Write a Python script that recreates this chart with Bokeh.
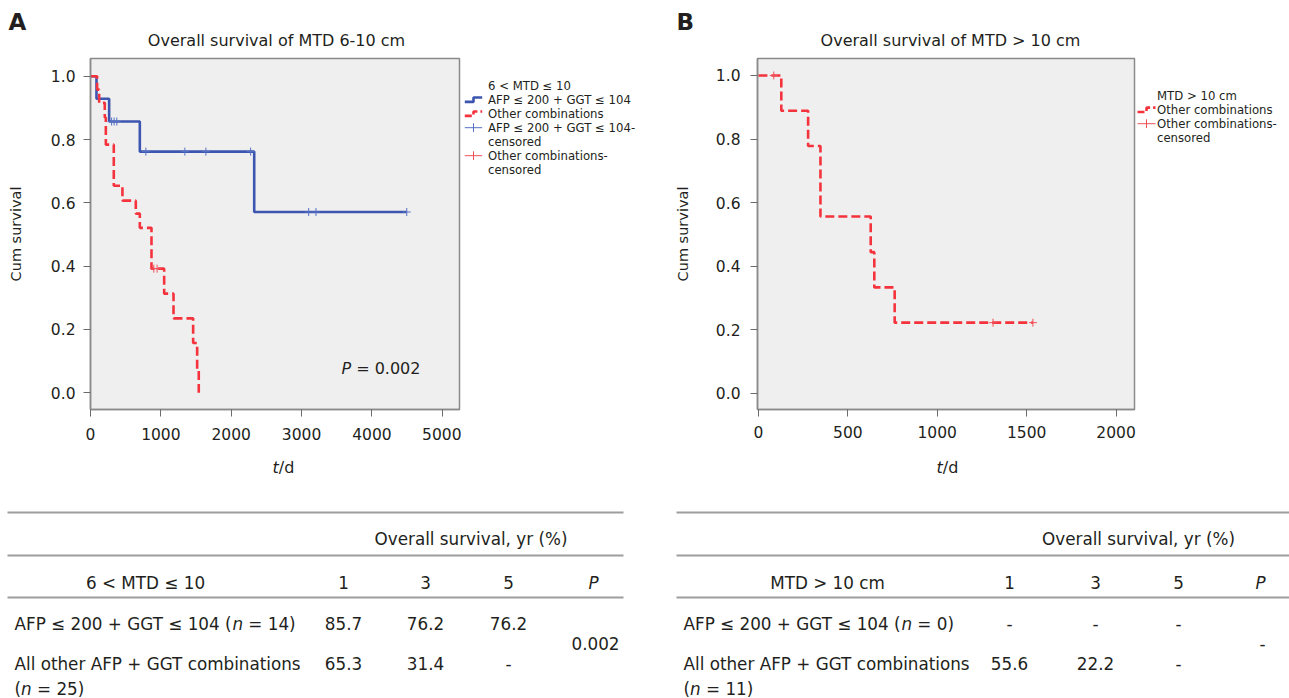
from bokeh.plotting import figure
from bokeh.models import Range1d, Label, FixedTicker
from bokeh.layouts import column, row
from bokeh.embed import file_html
from bokeh.resources import INLINE
from bokeh.core.properties import value

FONT = "DejaVu Sans"
TXT = "#231f20"
BLUE = "#3c55b0"
RED = "#f4333d"
BLUE_C = "#5570c4"
RED_C = "#f25058"
FRAME_BG = "#efefef"
EDGE = "#8a8a8a"
EM_SPACE = 0.318  # DejaVu Sans space width (em)

# ---------------- data ----------------
a_title = "Overall survival of MTD 6-10 cm"
b_title = "Overall survival of MTD > 10 cm"

a_blue_t = [0, 85, 265, 701, 2327, 4495]
a_blue_s = [1.0, 0.929, 0.857, 0.762, 0.571, 0.571]
a_blue_cens_t = [300, 336, 374, 787, 1341, 1640, 2276, 3101, 3205, 4495]
a_blue_cens_s = [0.857, 0.857, 0.857, 0.762, 0.762, 0.762, 0.762, 0.571, 0.571, 0.571]
a_red_t = [0, 94, 123, 203, 218, 331, 454, 644, 701, 867, 1047, 1180, 1459, 1516, 1539]
a_red_s = [1.0, 0.958, 0.916, 0.870, 0.784, 0.654, 0.607, 0.566, 0.521, 0.392, 0.313, 0.235, 0.157, 0.073, 0.0]
a_red_cens_t = [900, 947]
a_red_cens_s = [0.392, 0.392]

b_red_t = [0, 128, 278, 347, 628, 648, 762, 1535]
b_red_s = [1.0, 0.889, 0.778, 0.556, 0.444, 0.333, 0.222, 0.222]
b_red_cens_t = [86, 1312, 1535]
b_red_cens_s = [1.0, 0.222, 0.222]

a_xticks = [0, 1000, 2000, 3000, 4000, 5000]
b_xticks = [0, 500, 1000, 1500, 2000]
yticks = [0.0, 0.2, 0.4, 0.6, 0.8, 1.0]
ytick_labels = ["0.0", "0.2", "0.4", "0.6", "0.8", "1.0"]
a_pvalue_text = "= 0.002"

# legend entries: (label, glyph kind)
a_legend = [("6 < MTD ≤ 10", None), ("AFP ≤ 200 + GGT ≤ 104", "blue_line"),
            ("Other combinations", "red_line"), ("AFP ≤ 200 + GGT ≤ 104-", "blue_cross"),
            ("censored", None), ("Other combinations-", "red_cross"), ("censored", None)]
b_legend = [("MTD > 10 cm", None), ("Other combinations", "red_line"),
            ("Other combinations-", "red_cross"), ("censored", None)]

tab_head = "Overall survival, yr (%)"
tab_years = ["1", "3", "5"]
tab_row_labels = ["AFP ≤ 200 + GGT ≤ 104", "All other AFP + GGT combinations"]
a_group = "6 < MTD ≤ 10"
a_row_n = ["14", "25"]
a_vals = [["85.7", "76.2", "76.2"], ["65.3", "31.4", "-"]]
a_p = "0.002"
b_group = "MTD > 10 cm"
b_row_n = ["0", "11"]
b_vals = [["-", "-", "-"], ["55.6", "22.2", "-"]]
b_p = "-"


def blank_fig(width, height, xr, yr):
    p = figure(width=width, height=height, x_range=Range1d(*xr), y_range=Range1d(*yr),
               output_backend="svg", toolbar_location=None, min_border=0,
               x_axis_type=None, y_axis_type=None)
    p.outline_line_color = None
    p.border_fill_color = "white"
    p.background_fill_color = "white"
    return p


def km_fig(width, bl, bb, xr, yr, xticks, tick_standoff, label_standoff, x_standoff):
    p = figure(width=width, height=400, x_range=Range1d(*xr), y_range=Range1d(*yr),
               output_backend="svg", toolbar_location=None,
               min_border_left=bl, min_border_right=2, min_border_top=8,
               min_border_bottom=bb)
    p.background_fill_color = FRAME_BG
    p.border_fill_color = "white"
    p.outline_line_color = EDGE
    p.outline_line_width = 1.5
    p.xgrid.grid_line_color = None
    p.ygrid.grid_line_color = None
    p.xaxis.ticker = FixedTicker(ticks=xticks)
    p.yaxis.ticker = FixedTicker(ticks=yticks)
    p.yaxis.major_label_overrides = {t: l for t, l in zip(yticks, ytick_labels)}
    for ax in (p.xaxis, p.yaxis):
        ax.axis_line_color = EDGE
        ax.axis_line_width = 1.5
        ax.major_tick_line_color = "#6a6a6a"
        ax.major_tick_in = 0
        ax.major_tick_out = 7
        ax.minor_tick_line_color = None
        ax.major_label_text_font = FONT
        ax.major_label_text_font_size = "15.5px"
        ax.major_label_text_color = TXT
    p.xaxis.major_label_standoff = x_standoff
    p.yaxis.major_label_standoff = tick_standoff
    p.yaxis.axis_label = "Cum survival"
    p.yaxis.axis_label_standoff = label_standoff
    p.yaxis.axis_label_text_font = FONT
    p.yaxis.axis_label_text_font_size = "14.5px"
    p.yaxis.axis_label_text_font_style = "normal"
    p.yaxis.axis_label_text_color = TXT
    return p


def texts(p, xs, ys, ts, size, align="left", style="normal", baseline="middle"):
    p.text(x=xs, y=ys, text=ts, text_font=value(FONT), text_font_size=size,
           text_font_style=style, text_align=align, text_baseline=baseline,
           text_color=TXT)


# ---------------- top band: panel letters and titles ----------------
top = blank_fig(1289, 50, (0, 1289), (50, 0))
texts(top, [8, 676], [21, 21.5], ["A", "B"], "23px", style="bold")
texts(top, [276, 950], [40, 40], [a_title, b_title], "16px", align="center")

# ---------------- panel A ----------------
pa = km_fig(461, 90, 37, (0, 5245), (-0.053125, 1.05625), a_xticks, 8, 24, 11)
pa.step(a_blue_t, a_blue_s, mode="after", line_color=BLUE, line_width=2.6)
pa.step(a_red_t, a_red_s, mode="after", line_color=RED, line_width=2.6, line_dash="9 4")
pa.scatter(a_blue_cens_t, a_blue_cens_s, marker="cross", size=8, line_color=BLUE_C,
           line_width=1)
pa.scatter(a_red_cens_t, a_red_cens_s, marker="cross", size=8, line_color=RED_C,
           line_width=1)
P_X, P_Y = 3704, 0.078
pa.add_layout(Label(x=P_X, y=P_Y, text="P", text_font=FONT, text_font_size="16px",
                    text_font_style="italic", text_align="right", text_baseline="middle",
                    text_color=TXT))
pa.add_layout(Label(x=P_X, y=P_Y, x_offset=EM_SPACE * 16, text=a_pvalue_text,
                    text_font=FONT, text_font_size="16px", text_align="left",
                    text_baseline="middle", text_color=TXT))

# ---------------- panel B ----------------
pb = km_fig(476, 97, 41, (-5, 2103), (-0.0513, 1.0535), b_xticks, 10, 22, 9)
pb.step(b_red_t, b_red_s, mode="after", line_color=RED, line_width=2.6, line_dash="9 4")
pb.scatter(b_red_cens_t, b_red_cens_s, marker="cross", size=8, line_color=RED_C,
           line_width=1)


# ---------------- legends (own small canvases beside each plot) ----------------
def legend_fig(x0, width, entries, gx0, gx1, tx, y0, dy):
    lg = blank_fig(width, 400, (x0, x0 + width), (450, 50))
    ys = [y0 + i * dy for i in range(len(entries))]
    gm = (gx0 + gx1) / 2
    for (lbl, kind), y in zip(entries, ys):
        if kind == "blue_line":
            lg.line([gx0, gm, gm, gx1], [y + 2.5, y + 2.5, y - 2.5, y - 2.5],
                    line_color=BLUE, line_width=2.6)
        elif kind == "red_line":
            lg.line([gx0, gm, gm, gx1], [y + 2.5, y + 2.5, y - 2.5, y - 2.5],
                    line_color=RED, line_width=2.6, line_dash="7 3")
        elif kind in ("blue_cross", "red_cross"):
            c = BLUE_C if kind == "blue_cross" else RED_C
            lg.segment([gx0], [y], [gx1], [y], line_color=c, line_width=1)
            lg.segment([gm], [y - 5], [gm], [y + 5], line_color=c, line_width=1)
    texts(lg, [tx] * len(entries), ys, [e[0] for e in entries], "11.7px")
    return lg


la = legend_fig(461, 199, a_legend, 464.3, 481.7, 487.5, 81, 15.95)
lb = legend_fig(1136, 153, b_legend, 1137, 1155, 1156.5, 92.7, 15.8)

# ---------------- bottom band: x-axis titles and tables ----------------
bot = blank_fig(1289, 248, (0, 1289), (698, 450))
texts(bot, [278.3, 942.3], [466.7, 466.7], ["t", "t"], "16px", align="right",
      style="italic")
texts(bot, [278.3, 942.3], [466.7, 466.7], ["/d", "/d"], "16px", align="left")

TS = 16.8  # table font px
EM_PREFIX = 12.969  # width (em) of "AFP ≤ 200 + GGT ≤ 104 ("
EM_PAREN = 0.390
EM_N = 0.634

Y_LINES = [512, 555, 597]
Y_HEAD, Y_GROUP, Y_ROW1, Y_ROW2, Y_ROW2B, Y_P = 538, 582, 623, 663, 688, 643

tables = [
    dict(x0=7, x1=623, lx=14, cols=[343, 425, 508], px=593, gx=145, hx=470.5,
         group=a_group, n=a_row_n, vals=a_vals, pv=a_p),
    dict(x0=676, x1=1289, lx=683, cols=[1009, 1095, 1178], px=1260, gx=827, hx=1138,
         group=b_group, n=b_row_n, vals=b_vals, pv=b_p),
]

seg_x0, seg_x1, seg_y = [], [], []
norm = dict(x=[], y=[], text=[], align=[])
ital = dict(x=[], y=[], text=[], align=[])


def put(d, x, y, t, a):
    d["x"].append(x); d["y"].append(y); d["text"].append(t); d["align"].append(a)


for tb in tables:
    for yl in Y_LINES:
        seg_x0.append(tb["x0"]); seg_x1.append(tb["x1"]); seg_y.append(yl)
    put(norm, tb["hx"], Y_HEAD, tab_head, "center")
    put(norm, tb["gx"], Y_GROUP, tb["group"], "center")
    for cx, yr_ in zip(tb["cols"], tab_years):
        put(norm, cx, Y_GROUP, yr_, "center")
    put(ital, tb["px"], Y_GROUP, "P", "center")
    lx = tb["lx"]
    xn = lx + EM_PREFIX * TS
    put(norm, lx, Y_ROW1, tab_row_labels[0] + " (", "left")
    put(ital, xn, Y_ROW1, "n", "left")
    put(norm, xn + (EM_N + EM_SPACE) * TS, Y_ROW1, "= " + tb["n"][0] + ")", "left")
    put(norm, lx, Y_ROW2, tab_row_labels[1], "left")
    xn2 = lx + EM_PAREN * TS
    put(norm, lx, Y_ROW2B, "(", "left")
    put(ital, xn2, Y_ROW2B, "n", "left")
    put(norm, xn2 + (EM_N + EM_SPACE) * TS, Y_ROW2B, "= " + tb["n"][1] + ")", "left")
    for cx, v1, v2 in zip(tb["cols"], tb["vals"][0], tb["vals"][1]):
        put(norm, cx, Y_ROW1, v1, "center")
        put(norm, cx, Y_ROW2, v2, "center")
    put(norm, tb["px"] + 2, Y_P, tb["pv"], "center")

bot.segment(x0=seg_x0, y0=seg_y, x1=seg_x1, y1=seg_y, line_color="#9d9d9d", line_width=2)
bot.text(x="x", y="y", text="text", text_align="align", source=norm, text_font=value(FONT),
         text_font_size=f"{TS}px", text_baseline="middle", text_color=TXT)
bot.text(x="x", y="y", text="text", text_align="align", source=ital, text_font=value(FONT),
         text_font_size=f"{TS}px", text_font_style="italic", text_baseline="middle",
         text_color=TXT)

layout = column(top, row(pa, la, pb, lb), bot)
open("out.html", "w").write(file_html(layout, INLINE))
